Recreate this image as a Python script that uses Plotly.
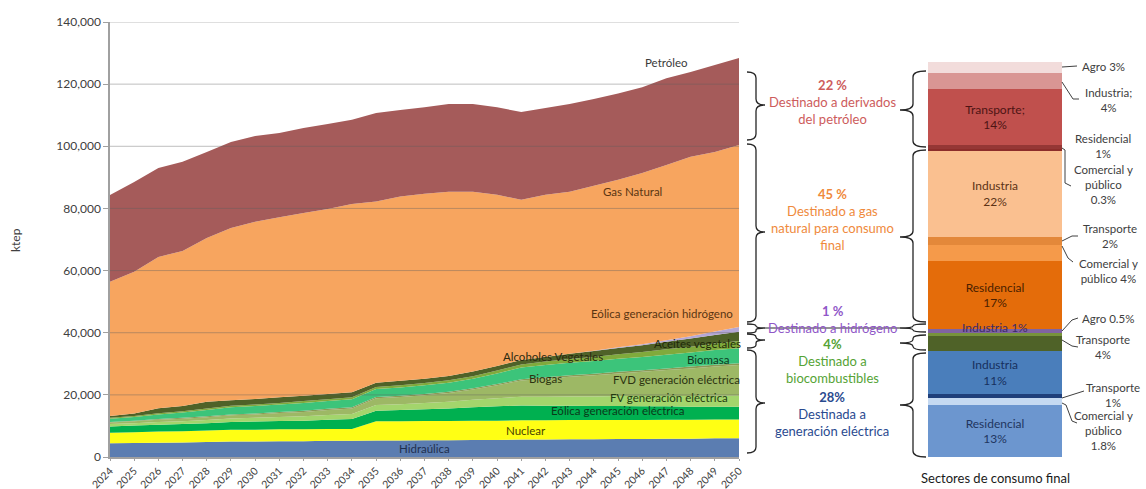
import plotly.graph_objects as go

W, H = 1146, 489
FONT = 'Lato'

years = list(range(2024, 2051))
y_ticks = [0, 20000, 40000, 60000, 80000, 100000, 120000, 140000]

# ktep por fuente (apiladas de abajo hacia arriba)
hidraulica = [4400, 4500, 4600, 4700, 4800, 5000, 5000, 5100, 5100, 5200, 5200, 5300, 5300, 5400,
              5400, 5500, 5500, 5600, 5600, 5700, 5700, 5800, 5800, 5900, 5900, 6000, 6000]
nuclear = [3400, 3500, 3600, 3600, 3700, 3800, 3800, 3800, 3800, 3800, 3800, 6200, 6200, 6200,
           6200, 6200, 6200, 6200, 6200, 6200, 6200, 6100, 6100, 6100, 6100, 6100, 6100]
eolica_elec = [2000, 2100, 2200, 2300, 2400, 2500, 2600, 2700, 2800, 3000, 3200, 3400, 3600, 3800,
               4000, 4300, 4600, 4800, 4700, 4600, 4500, 4500, 4400, 4300, 4200, 4100, 4100]
fv_elec = [800, 800, 900, 900, 1000, 1100, 1200, 1300, 1400, 1500, 1600, 1800, 1900, 2000,
           2200, 2400, 2600, 2800, 2900, 3000, 3100, 3200, 3300, 3300, 3400, 3500, 3500]
fvd_elec = [500, 600, 700, 800, 900, 1000, 1100, 1300, 1400, 1600, 1800, 2200, 2300, 2500,
            2800, 3300, 4200, 5200, 5800, 6300, 6800, 7300, 7800, 8400, 8900, 9400, 9900]
biogas = [200, 200, 200, 300, 300, 300, 300, 300, 400, 400, 400, 400, 400, 400,
          400, 400, 400, 400, 500, 500, 500, 500, 500, 500, 600, 600, 600]
biomasa = [1000, 1200, 1500, 1700, 2000, 2300, 2400, 2400, 2500, 2500, 2600, 2600, 2700, 2800,
           2900, 3100, 3400, 3800, 3900, 4000, 4100, 4200, 4300, 4400, 4500, 4700, 4800]
alcoholes = [300, 300, 400, 400, 500, 500, 500, 500, 600, 600, 600, 600, 700, 700,
             800, 800, 900, 1000, 1100, 1200, 1300, 1500, 1600, 1800, 1900, 2100, 2300]
aceites = [600, 800, 1600, 1700, 2200, 1800, 1800, 1800, 1700, 1700, 1600, 1400, 1400, 1400,
           1400, 1500, 1500, 1400, 1500, 1700, 1900, 2000, 2200, 2400, 2600, 2800, 3000]
eolica_h2 = [0, 0, 0, 0, 0, 0, 0, 0, 0, 0, 0, 0, 0, 0,
             0, 0, 0, 0, 0, 0, 100, 200, 300, 500, 800, 1100, 1500]
gas_natural = [43200, 45600, 48700, 49900, 52700, 55400, 57000, 58000, 58800, 59500, 60600, 58300, 59300, 59500,
               59300, 57900, 55100, 51600, 52200, 52200, 53100, 53900, 55100, 56400, 57700, 57800, 58600]
petroleo = [27900, 28900, 28600, 28700, 27700, 27700, 27600, 27100, 27400, 27400, 27100, 28500, 27900, 27900,
            28200, 28200, 28200, 28200, 27900, 28200, 27900, 27800, 27600, 27900, 27300, 28000, 28000]

series = [
    ('Hidraúlica', hidraulica, '#5b7db1'),
    ('Nuclear', nuclear, '#ffff14'),
    ('Eólica generación eléctrica', eolica_elec, '#00b050'),
    ('FV generación eléctrica', fv_elec, '#a3d56c'),
    ('FVD generación eléctrica', fvd_elec, '#9db865'),
    ('Biogas', biogas, '#8a9a55'),
    ('Biomasa', biomasa, '#3cc47a'),
    ('Alcoholes Vegetales', alcoholes, '#80aa3c'),
    ('Aceites vegetales', aceites, '#4f6228'),
    ('Eólica generación hidrógeno', eolica_h2, '#b4a7d6'),
    ('Gas Natural', gas_natural, '#f7a55f'),
    ('Petróleo', petroleo, '#a55b5a'),
]

# etiquetas dentro del gráfico de áreas
area_labels = ['Petróleo', 'Gas Natural', 'Eólica generación hidrógeno', 'Aceites vegetales',
               'Alcoholes Vegetales', 'Biomasa', 'Biogas', 'FVD generación eléctrica',
               'FV generación eléctrica', 'Eólica generación eléctrica', 'Nuclear', 'Hidraúlica']
area_label_x = [2047.0, 2045.6, 2046.8, 2048.3, 2042.3, 2048.7, 2042.0, 2047.4, 2047.1, 2045.0, 2041.2, 2037.0]
area_label_y = [127000, 85600, 46300, 36400, 32200, 31500, 25400, 25100, 19300, 15100, 8400, 2600]
area_label_color = ['#3a3a3a', '#5a3512', '#5a3512', '#1f2a0a', '#2a2a10', '#0d3a1f', '#2c3310',
                    '#2c3310', '#1f3a10', '#0a3a1a', '#4a4400', '#1f2f4f']

# sectores de consumo final (de abajo hacia arriba, % del total)
sector_names = ['Residencial', 'Comercial y público', 'Transporte', 'Industria', 'Transporte', 'Agro',
                'Industria', 'Residencial', 'Comercial y público', 'Transporte', 'Industria',
                'Comercial y público', 'Residencial', 'Transporte', 'Industria', 'Agro']
sector_share = [13, 1.8, 1, 11, 4, 0.5, 1, 17, 4, 2, 22, 0.3, 1, 14, 4, 3]
sector_colors = ['#6c96cf', '#c5d9f1', '#1f3f7a', '#4a7ebb', '#4f6228', '#77933c', '#8064a2',
                 '#e46c0a', '#f59a4a', '#e3883a', '#fac090', '#8c2d2a', '#953735', '#c0504d',
                 '#d99694', '#f2dcdb']
sector_inside_text = ['Residencial<br>13%', '', '', 'Industria<br>11%', '', '', '',
                      'Residencial<br>17%', '', '', 'Industria<br>22%', '', '', 'Transporte;<br>14%', '', '']
sector_text_color = ['#1f3560', '#000', '#000', '#17305e', '#000', '#000', '#000',
                     '#4a2000', '#000', '#000', '#5c3316', '#000', '#000', '#4d1414', '#000', '#000']


def px(x):
    return x / W


def py(y):
    return 1 - y / H


def brace(x_end, x_mid, x_tip, y0, y1, yt, r=6):
    r = min(r, (yt - y0) / 2, (y1 - yt) / 2)
    return (f"M {px(x_end)},{py(y0)} Q {px(x_mid)},{py(y0)} {px(x_mid)},{py(y0 + r)} "
            f"L {px(x_mid)},{py(yt - r)} Q {px(x_mid)},{py(yt)} {px(x_tip)},{py(yt)} "
            f"Q {px(x_mid)},{py(yt)} {px(x_mid)},{py(yt + r)} "
            f"L {px(x_mid)},{py(y1 - r)} Q {px(x_mid)},{py(y1)} {px(x_end)},{py(y1)}")


def polyline(pts):
    return 'M ' + ' L '.join(f"{px(x)},{py(y)}" for x, y in pts)


def note(text, x, y, size=12, color='#404040', xanchor='center', **kw):
    return dict(x=px(x), y=py(y), xref='paper', yref='paper', text=text, showarrow=False,
                xanchor=xanchor, yanchor='middle', align='center',
                font=dict(family=FONT, size=size, color=color), **kw)


fig = go.Figure()

for name, vals, color in series:
    fig.add_trace(go.Scatter(
        x=years, y=vals, name=name, mode='none', stackgroup='one',
        fillcolor=color, hoverinfo='skip',
    ))

for name, share, color, txt, tcol in zip(sector_names, sector_share, sector_colors,
                                         sector_inside_text, sector_text_color):
    fig.add_trace(go.Bar(
        x=[0], y=[share], name=name, marker_color=color, marker_line_width=0,
        width=1, xaxis='x3', yaxis='y3', text=[txt], textposition='inside',
        insidetextanchor='middle', textangle=0,
        textfont=dict(family=FONT, size=12, color=tcol), hoverinfo='skip',
    ))

annotations = []
for t, x, y, c in zip(area_labels, area_label_x, area_label_y, area_label_color):
    annotations.append(dict(x=x, y=y, xref='x', yref='y', text=t, showarrow=False,
                            xanchor='center', yanchor='middle',
                            font=dict(family=FONT, size=11.5, color=c)))

annotations.append(note('ktep', 15, 240, textangle=-90))

# textos de destino
dest = [
    ('<b>22 %</b><br>Destinado a derivados<br>del petróleo', 102, '#cd5c5c'),
    ('<b>45 %</b><br>Destinado a gas<br>natural para consumo<br>final', 220, '#ef8a3c'),
    ('<b>1 %</b><br>Destinado a hidrógeno', 319, '#9057c8'),
    ('<b>4%</b><br>Destinado a<br>biocombustibles', 361, '#55a335'),
    ('<b>28%</b><br>Destinada a<br>generación eléctrica', 414, '#2a4a8f'),
]
for t, y, c in dest:
    annotations.append(note(t, 832, y, size=13, color=c))

# etiquetas a la derecha de la barra
side = [
    ('Agro 3%', 1080, 67, 'left'),
    ('Industria;<br>4%', 1108, 100, 'center'),
    ('Residencial<br>1%', 1103, 146, 'center'),
    ('Comercial y<br>público<br>0.3%', 1103, 184, 'center'),
    ('Transporte<br>2%', 1110, 236, 'center'),
    ('Comercial y<br>público 4%', 1108, 271, 'center'),
    ('Agro 0.5%', 1080, 318, 'left'),
    ('Transporte<br>4%', 1103, 347, 'center'),
    ('Transporte<br>1%', 1113, 395, 'center'),
    ('Comercial y<br>público<br>1.8%', 1103, 430, 'center'),
]
for t, x, y, a in side:
    annotations.append(note(t, x, y, size=11.5, xanchor=a))

annotations.append(note('Industria 1%', 995, 327, color='#3b2a6b'))
annotations.append(note('Sectores de consumo final', 995, 478, size=13, color='#1a1a1a'))

shapes = []
# líneas de cuadrícula por encima de las áreas
for v in y_ticks[1:]:
    shapes.append(dict(type='line', xref='x', yref='y', x0=years[0], x1=years[-1], y0=v, y1=v,
                       line=dict(color='rgba(95,95,95,0.4)', width=1), layer='above'))

shapes.append(dict(type='path', xref='paper', yref='paper', path=polyline([(765, 328), (900, 328)]),
                   line=dict(color='#262626', width=1), layer='below'))
brace_line = dict(color='#262626', width=1.3)
for y0, y1, yt in [(72, 140, 105), (144, 322, 232), (324, 333, 328), (334, 348, 340), (350, 453, 403)]:
    shapes.append(dict(type='path', xref='paper', yref='paper', path=brace(747, 756, 765, y0, y1, yt),
                       line=brace_line))
for y0, y1, yt in [(71, 147, 110), (150, 322, 237), (324, 332, 328), (335, 350, 343), (353, 457, 405)]:
    shapes.append(dict(type='path', xref='paper', yref='paper', path=brace(926, 913, 900, y0, y1, yt),
                       line=brace_line))

leaders = [
    [(1062, 67), (1077, 66)],
    [(1062, 82), (1073, 99), (1079, 99)],
    [(1062, 148), (1065, 150), (1065, 183), (1071, 186)],
    [(1062, 241), (1072, 236), (1078, 236)],
    [(1062, 246), (1068, 258), (1073, 262)],
    [(1062, 331), (1072, 320), (1078, 318)],
    [(1062, 340), (1072, 346), (1078, 347)],
    [(1062, 398), (1084, 391)],
    [(1062, 403), (1066, 405), (1072, 421), (1077, 423)],
]
for pts in leaders:
    shapes.append(dict(type='path', xref='paper', yref='paper', path=polyline(pts),
                       line=dict(color='#404040', width=1)))

fig.update_layout(
    width=W, height=H,
    template='none',
    margin=dict(l=0, r=0, t=0, b=0),
    paper_bgcolor='white', plot_bgcolor='rgba(0,0,0,0)',
    showlegend=False,
    barmode='stack',
    font=dict(family=FONT, color='#404040'),
    xaxis=dict(
        domain=[px(110), px(739)], range=[2024, 2050], tickmode='array', tickvals=years,
        ticktext=[str(y) for y in years], tickangle=-45, ticks='outside', ticklen=2,
        tickcolor='#a0a0a0', showline=True, linecolor='#a0a0a0', linewidth=1.5,
        showgrid=False, zeroline=False, automargin=False,
        tickfont=dict(family=FONT, size=10.5, color='#404040'),
    ),
    yaxis=dict(
        domain=[py(457), py(22)], range=[0, 140000], tickmode='array', tickvals=y_ticks,
        tickformat=',', ticks='outside', ticklen=5, tickcolor='#a0a0a0', showline=True,
        linecolor='#a0a0a0', linewidth=1.5, showgrid=False, zeroline=False, automargin=False,
        layer='above traces', tickfont=dict(family=FONT, size=12, color='#404040'),
    ),
    xaxis3=dict(domain=[px(928), px(1062)], range=[-0.5, 0.5], visible=False, anchor='y3'),
    yaxis3=dict(domain=[py(457), py(61.5)], range=[0, sum(sector_share)], visible=False, anchor='x3'),
    annotations=annotations,
    shapes=shapes,
)

fig.write_html('out.html', config={'displayModeBar': False},
               post_script="document.body.style.margin='0';")
